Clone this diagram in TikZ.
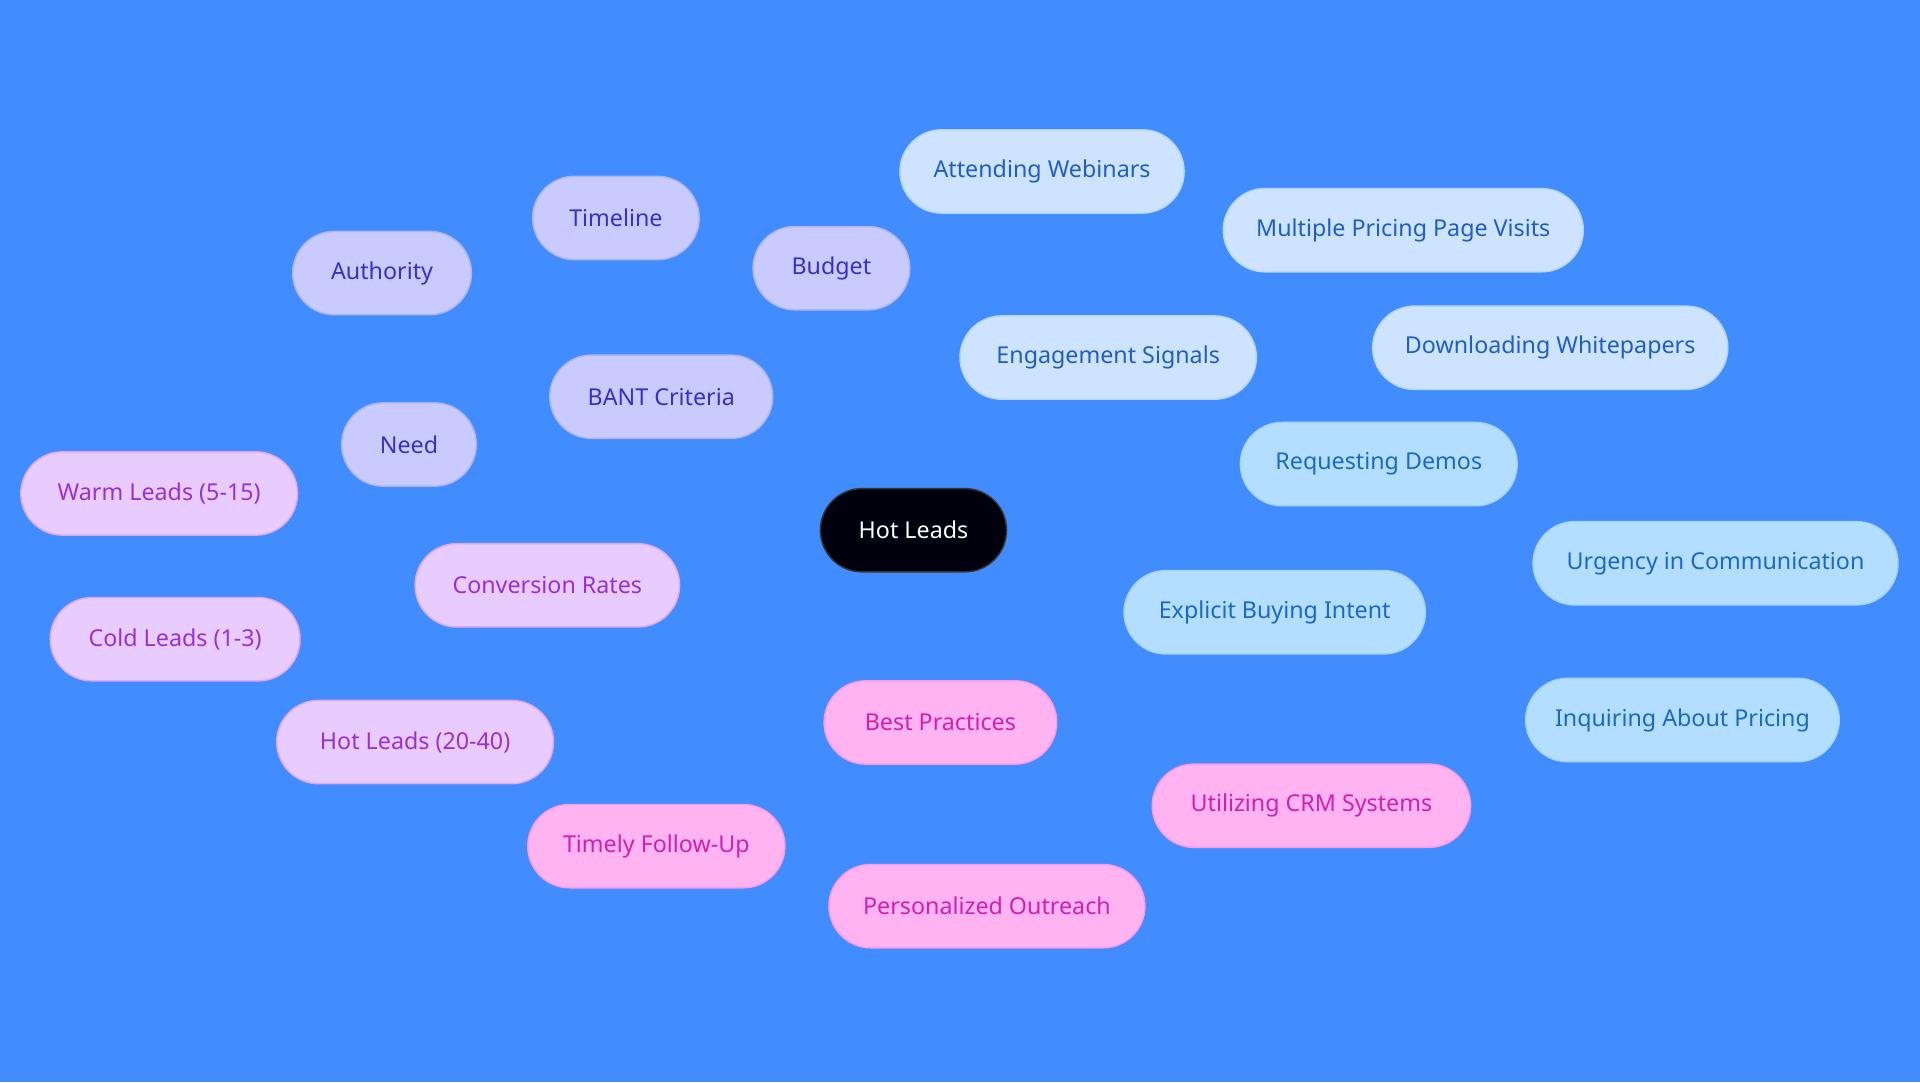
\documentclass[tikz,border=0pt]{standalone}
\usepackage{fontspec}
\setmainfont{Noto Sans}
\usetikzlibrary{backgrounds}
\definecolor{bg}{HTML}{418CFF}
\definecolor{bantF}{HTML}{C9CBFF}\definecolor{bantT}{HTML}{3A30C0}\definecolor{bantE}{HTML}{B0B4F0}
\definecolor{engF}{HTML}{CDE3FF}\definecolor{engT}{HTML}{1F5FC0}\definecolor{engE}{HTML}{B8D6FF}
\definecolor{expF}{HTML}{B3DEFF}\definecolor{expT}{HTML}{1A6AC0}\definecolor{expE}{HTML}{A8D4FF}
\definecolor{conF}{HTML}{E8CCFF}\definecolor{conT}{HTML}{9A30D0}\definecolor{conE}{HTML}{E0A8F8}
\definecolor{bpF}{HTML}{FFB3F0}\definecolor{bpT}{HTML}{D020B0}\definecolor{bpE}{HTML}{FF9AE8}
\begin{document}
\begin{tikzpicture}[x=0.5pt,y=-0.5pt,
 n/.style={rounded corners=17pt,minimum height=34pt,inner xsep=0pt,font=\fontsize{9.5}{11}\selectfont,line width=0.6pt},
 bant/.style={n,fill=bantF,draw=bantE,text=bantT},
 eng/.style={n,fill=engF,draw=engE,text=engT},
 exp/.style={n,fill=expF,draw=expE,text=expT},
 con/.style={n,fill=conF,draw=conE,text=conT},
 bp/.style={n,fill=bpF,draw=bpE,text=bpT},
 e/.style={line width=1.1pt}]
\fill[bg] (0,0) rectangle (1568,884);
\useasboundingbox (0,0) rectangle (1568,884);
\node[n,fill=black!90!blue!60!black,draw=black!80,text=white,minimum width=76pt] (hot) at (746,433) {Hot Leads};
\node[bant,minimum width=91pt] (bant) at (540,324) {BANT Criteria};
\node[bant,minimum width=73pt] (auth) at (312,223) {Authority};
\node[bant,minimum width=68pt] (time) at (503,178) {Timeline};
\node[bant,minimum width=64pt] (budg) at (679,219) {Budget};
\node[bant,minimum width=55pt] (need) at (334,363) {Need};
\node[eng,minimum width=121pt] (eng) at (905,292) {Engagement Signals};
\node[eng,minimum width=116pt] (web) at (851,140) {Attending Webinars};
\node[eng,minimum width=147pt] (mpp) at (1146,188) {Multiple Pricing Page Visits};
\node[eng,minimum width=145pt] (dw) at (1266,284) {Downloading Whitepapers};
\node[exp,minimum width=123pt] (exp) at (1041,500) {Explicit Buying Intent};
\node[exp,minimum width=113pt] (rd) at (1126,379) {Requesting Demos};
\node[exp,minimum width=149pt] (uc) at (1401,460) {Urgency in Communication};
\node[exp,minimum width=128pt] (iap) at (1374,588) {Inquiring About Pricing};
\node[con,minimum width=108pt] (con) at (447,478) {Conversion Rates};
\node[con,minimum width=113pt] (warm) at (130,403) {Warm Leads (5-15)};
\node[con,minimum width=102pt] (cold) at (143,522) {Cold Leads (1-3)};
\node[con,minimum width=113pt] (hl) at (339,606) {Hot Leads (20-40)};
\node[bp,minimum width=95pt] (bp) at (768,590) {Best Practices};
\node[bp,minimum width=105pt] (tf) at (536,691) {Timely Follow-Up};
\node[bp,minimum width=129pt] (po) at (806,740) {Personalized Outreach};
\node[bp,minimum width=130pt] (crm) at (1071,658) {Utilizing CRM Systems};
\begin{scope}[on background layer]
\draw[e,bantE] (hot)--(bant) (bant)--(auth) (bant)--(time) (bant)--(budg) (bant)--(need);
\draw[e,engE] (hot)--(eng) (eng)--(web) (eng)--(mpp) (eng)--(dw);
\draw[e,expE] (hot)--(exp) (exp)--(rd) (exp)--(uc) (exp)--(iap);
\draw[e,conE] (hot)--(con) (con)--(warm) (con)--(cold) (con)--(hl);
\draw[e,bpE] (hot)--(bp) (bp)--(tf) (bp)--(po) (bp)--(crm);
\end{scope}
\end{tikzpicture}
\end{document}
